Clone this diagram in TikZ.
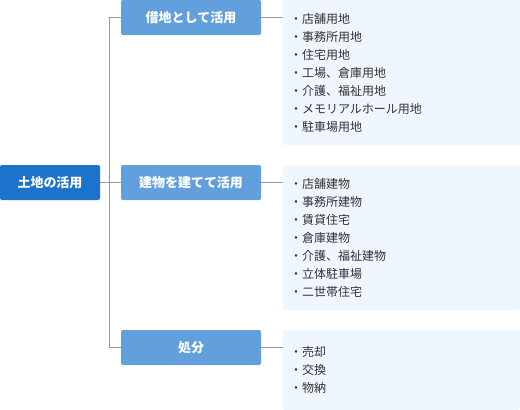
\documentclass[tikz,border=0pt]{standalone}
\usepackage{fontspec}
\setmainfont{Noto Sans CJK JP}
\usetikzlibrary{positioning}

\definecolor{rootblue}{HTML}{1B73CC}
\definecolor{boxblue}{HTML}{62A0DD}
\definecolor{panelblue}{HTML}{EFF6FE}
\definecolor{linegray}{HTML}{999999}
\definecolor{itemtext}{HTML}{333333}

\begin{document}
\begin{tikzpicture}[x=1pt, y=-1pt,
    rootbox/.style={fill=rootblue, text=white, rounded corners=2pt, minimum width=100pt, minimum height=35pt, font=\fontsize{13}{13}\selectfont\bfseries},
    usebox/.style={fill=boxblue, text=white, rounded corners=2pt, minimum width=140pt, minimum height=35pt, font=\fontsize{13}{13}\selectfont\bfseries},
    panel/.style={fill=panelblue, rounded corners=2pt, minimum width=237pt, text width=223pt, inner xsep=7pt, align=left, text=itemtext, font=\fontsize{12}{18}\selectfont},
    link/.style={draw=linegray, line width=1pt}]
            \useasboundingbox (0,0) rectangle (520,410);

            \node (root) [rootbox] at (50,182.5) {土地の活用};

            \node (lease) [usebox] at (191,17.5)  {借地として活用};
            \node (build) [usebox] at (191,182.5) {建物を建てて活用};
            \node (sell)  [usebox] at (191,347.5) {処分};

            \node (leaselist) [panel, minimum height=145pt] at (401.5,72.5)
            {・店舗用地\\・事務所用地\\・住宅用地\\・工場、倉庫用地\\・介護、福祉用地\\・メモリアルホール用地\\・駐車場用地};
            \node (buildlist) [panel, minimum height=145pt] at (401.5,237.5)
            {・店舗建物\\・事務所建物\\・賃貸住宅\\・倉庫建物\\・介護、福祉建物\\・立体駐車場\\・二世帯住宅};
            \node (selllist)  [panel, minimum height=80pt] at (401.5,370)
            {・売却\\・交換\\・物納};

            \path[link] (root) -- (build);
            \path[link] (lease.west) -- ++(-11,0) |- (sell.west);

            \path[link] (lease.east) -- (lease.east -| leaselist.west);
            \path[link] (build.east) -- (build.east -| buildlist.west);
            \path[link] (sell.east)  -- (sell.east -| selllist.west);
\end{tikzpicture}
\end{document}
